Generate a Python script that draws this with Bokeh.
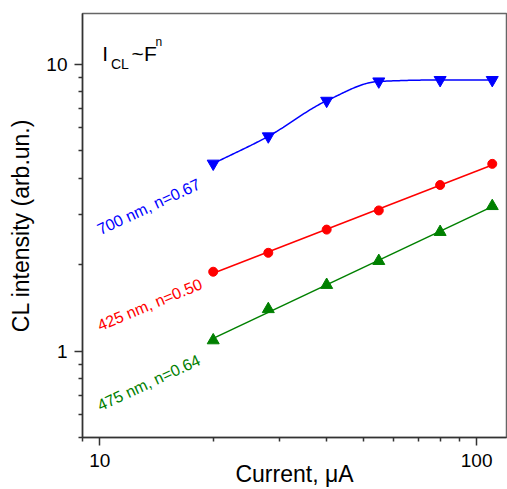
import numpy as np
from bokeh.plotting import figure
from bokeh.models import FixedTicker, Label, Range1d, BasicTickFormatter
from bokeh.embed import file_html
from bokeh.resources import INLINE

# ---- data ----
current = [20, 28, 40, 55, 80, 110]
cl_700 = [4.5, 5.6, 7.45, 8.7, 8.8, 8.8]
cl_425 = [1.89, 2.2, 2.65, 3.09, 3.79, 4.49]
cl_475 = [1.09, 1.40, 1.70, 2.06, 2.60, 3.20]
series_labels = ["700 nm, n=0.67", "425 nm, n=0.50", "475 nm, n=0.64"]
x_major = [10, 100]
x_minor = [9, 20, 30, 40, 50, 60, 70, 80, 90]
y_major = [1, 10]
y_minor = [0.5, 0.6, 0.7, 0.8, 0.9, 2, 3, 4, 5, 6, 7, 8, 9]
x_title = "Current, μA"
y_title = "CL intensity (arb.un.)"

FONT = "Liberation Sans"
BLUE, RED, GREEN = "#0000FF", "#FF0000", "#008000"


def pchip_loglog(x, y, n=200):
    lx, ly = np.log10(x), np.log10(y)
    h = np.diff(lx)
    dl = np.diff(ly) / h
    d = np.zeros_like(lx)
    for k in range(1, len(lx) - 1):
        if dl[k - 1] * dl[k] <= 0:
            d[k] = 0.0
        else:
            w1 = 2 * h[k] + h[k - 1]
            w2 = h[k] + 2 * h[k - 1]
            d[k] = (w1 + w2) / (w1 / dl[k - 1] + w2 / dl[k])
    d[0] = dl[0]
    d[-1] = dl[-1]
    xs, ys = [], []
    for k in range(len(lx) - 1):
        t = np.linspace(0, 1, n // (len(lx) - 1))
        h00 = 2 * t**3 - 3 * t**2 + 1
        h10 = t**3 - 2 * t**2 + t
        h01 = -2 * t**3 + 3 * t**2
        h11 = t**3 - t**2
        yy = h00 * ly[k] + h10 * h[k] * d[k] + h01 * ly[k + 1] + h11 * h[k] * d[k + 1]
        xs.extend(list(lx[k] + t * h[k]))
        ys.extend(list(yy))
    return 10 ** np.array(xs), 10 ** np.array(ys)


def powerfit(x, y):
    lx, ly = np.log10(x), np.log10(y)
    a, b = np.polyfit(lx, ly, 1)
    xx = np.array([min(x), max(x)], dtype=float)
    return xx, 10 ** (a * np.log10(xx) + b)


p = figure(width=507, height=489, x_axis_type="log", y_axis_type="log",
           x_range=Range1d(9, 120), y_range=Range1d(0.5, 15),
           output_backend="svg", toolbar_location=None,
           min_border_left=82, min_border_right=1, min_border_top=13, min_border_bottom=51)

p.grid.visible = False
p.outline_line_color = "#666666"
p.outline_line_width = 1.5
p.background_fill_color = "white"
p.border_fill_color = "white"

for ax, maj, mnr in ((p.xaxis[0], x_major, x_minor), (p.yaxis[0], y_major, y_minor)):
    ax.ticker = FixedTicker(ticks=maj, minor_ticks=mnr)
    ax.formatter = BasicTickFormatter()
    ax.axis_line_color = "#333333"
    ax.axis_line_width = 1.5
    ax.major_tick_line_color = "#333333"
    ax.minor_tick_line_color = "#333333"
    ax.major_tick_line_width = 1.5
    ax.minor_tick_line_width = 1.5
    ax.major_tick_in = 0
    ax.major_tick_out = 8
    ax.minor_tick_in = 0
    ax.minor_tick_out = 4
    ax.major_label_text_font = FONT
    ax.major_label_text_font_size = "19px"
    ax.major_label_text_color = "black"
    ax.axis_label_text_font = FONT
    ax.axis_label_text_font_size = "23px"
    ax.axis_label_text_font_style = "normal"
    ax.axis_label_text_color = "black"

p.xaxis.axis_label = x_title
p.yaxis.axis_label = y_title
p.xaxis.major_label_standoff = 8
p.yaxis.major_label_standoff = 7
p.xaxis.axis_label_standoff = -9
p.yaxis.axis_label_standoff = 9

# blue: smooth curve
bx, by = pchip_loglog(current, cl_700)
p.line(bx, by, line_color=BLUE, line_width=1.5)
p.scatter(current, cl_700, marker="inverted_triangle", size=12, fill_color=BLUE, line_color=BLUE)

# red / green: power-law fit lines
rx, ry = powerfit(current, cl_425)
p.line(rx, ry, line_color=RED, line_width=1.5)
p.scatter(current, cl_425, marker="circle", size=9, fill_color=RED, line_color=RED)

gx, gy = powerfit(current, cl_475)
p.line(gx, gy, line_color=GREEN, line_width=1.5)
p.scatter(current, cl_475, marker="triangle", size=12, fill_color=GREEN, line_color=GREEN)

# series labels (rotated)
for txt, col, yy, ang in ((series_labels[0], BLUE, 2.634, 25),
                          (series_labels[1], RED, 1.222, 22.5),
                          (series_labels[2], GREEN, 0.642, 25)):
    p.add_layout(Label(x=9.9, y=yy, text=txt, text_color=col, text_font=FONT,
                       text_font_size="16px", angle=ang, angle_units="deg",
                       text_align="left", text_baseline="alphabetic"))

# title I_CL ~ F^n
for txt, xx, yy, fs in (("I", 10.15, 10.86, "21px"),
                        ("CL", 10.71, 10.02, "14px"),
                        ("~F", 12.15, 10.86, "21px"),
                        ("n", 14.06, 11.96, "12px")):
    p.add_layout(Label(x=xx, y=yy, text=txt, text_color="black", text_font=FONT,
                       text_font_size=fs, text_align="left", text_baseline="alphabetic"))

open("out.html", "w").write(file_html(p, INLINE))
